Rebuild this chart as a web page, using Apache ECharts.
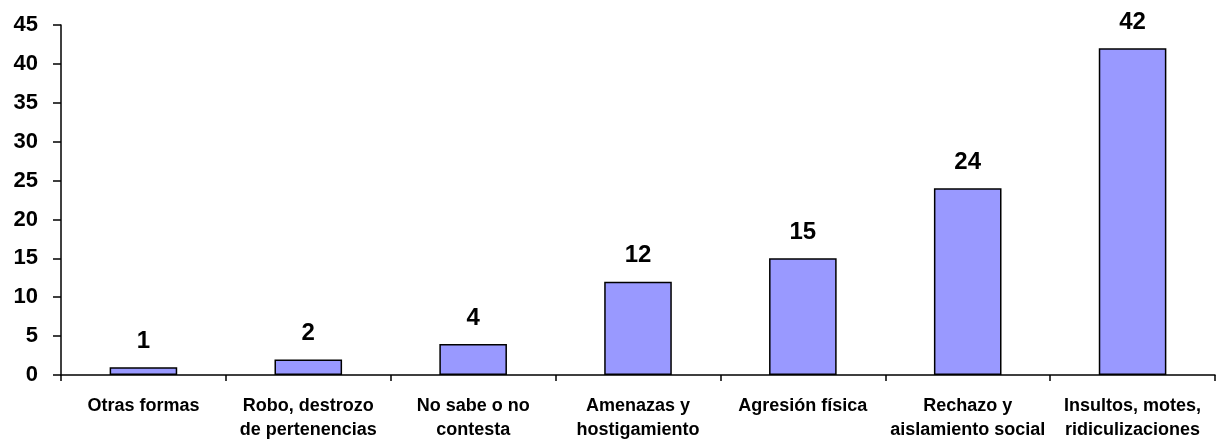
<!DOCTYPE html>
<html><head><meta charset="utf-8">
<script src="https://cdn.jsdelivr.net/npm/echarts@6/dist/echarts.min.js"></script>
<style>html,body{margin:0;padding:0;background:#fff}#c{width:1217px;height:439px}</style>
</head><body><div id="c"></div>
<script>
const categories = ["Otras formas", "Robo, destrozo\nde pertenencias", "No sabe o no\ncontesta", "Amenazas y\nhostigamiento", "Agresión física", "Rechazo y\naislamiento social", "Insultos, motes,\nridiculizaciones"];
const values = [1, 2, 4, 12, 15, 24, 42];
const yTicks = [0, 5, 10, 15, 20, 25, 30, 35, 40, 45];

const chart = echarts.init(document.getElementById('c'));
chart.setOption({
  animation: false,
  grid: {left: 61, right: 2, top: 25, bottom: 64, containLabel: false, outerBoundsMode: 'none'},
  xAxis: {
    type: 'category', data: categories,
    axisLine: {lineStyle: {color: '#000', width: 1.5}},
    axisTick: {show: true, length: 6, lineStyle: {color: '#000', width: 1.5}},
    axisLabel: {color: '#000', fontFamily: 'Liberation Sans, Arial', fontWeight: 'bold', fontSize: 18, lineHeight: 24, margin: 19, interval: 0}
  },
  yAxis: {
    type: 'value', min: yTicks[0], max: yTicks[yTicks.length - 1], interval: yTicks[1] - yTicks[0],
    splitLine: {show: false},
    axisLine: {show: true, lineStyle: {color: '#000', width: 1.5}},
    axisTick: {show: true, length: 8, lineStyle: {color: '#000', width: 1.5}},
    axisLabel: {color: '#000', fontFamily: 'Liberation Sans, Arial', fontWeight: 'bold', fontSize: 22, margin: 23}
  },
  series: [{
    type: 'bar', data: values, barWidth: '41%',
    itemStyle: {color: '#9999FF', borderColor: '#000', borderWidth: 1.5},
    label: {show: true, position: 'top', distance: 14, color: '#000', fontFamily: 'Liberation Sans, Arial', fontWeight: 'bold', fontSize: 24}
  }]
});
</script></body></html>
